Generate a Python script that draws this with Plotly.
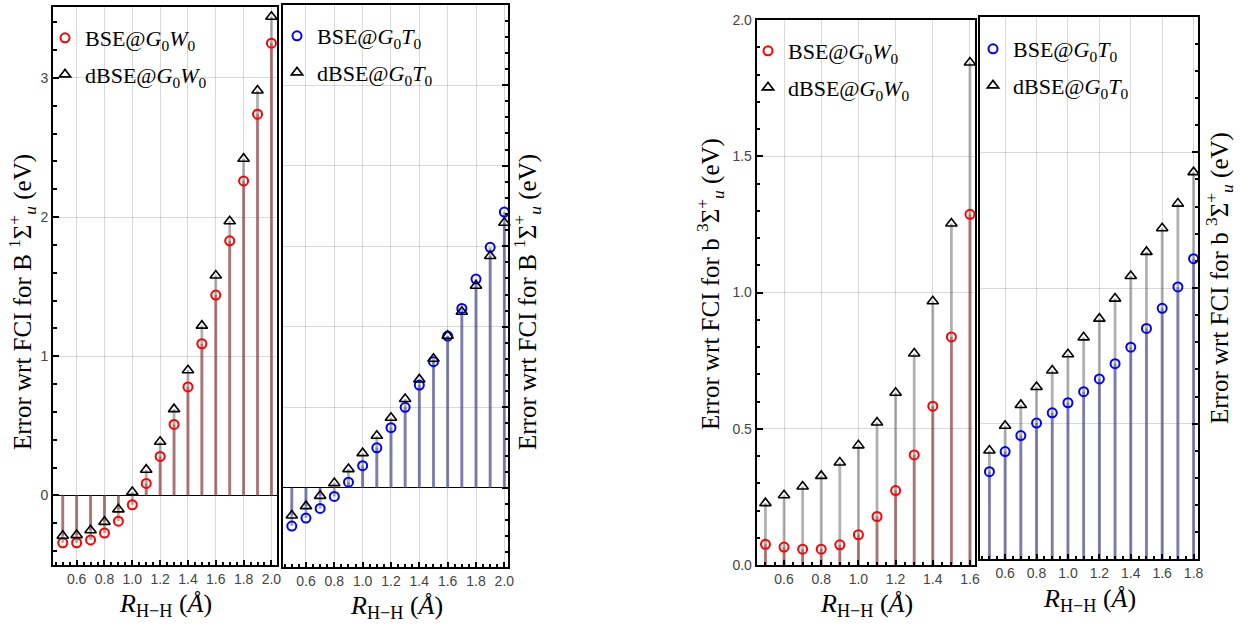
import plotly.graph_objects as go

# ---------------- data ----------------
R_B = [0.5, 0.6, 0.7, 0.8, 0.9, 1.0, 1.1, 1.2, 1.3, 1.4, 1.5, 1.6, 1.7, 1.8, 1.9, 2.0]
B1_BSE_G0W0 = [-0.34, -0.34, -0.32, -0.27, -0.185, -0.067, 0.086, 0.28, 0.51, 0.78, 1.09, 1.44, 1.83, 2.26, 2.74, 3.25]
B1_dBSE_G0W0 = [-0.29, -0.285, -0.25, -0.19, -0.10, 0.024, 0.185, 0.386, 0.62, 0.90, 1.22, 1.58, 1.97, 2.42, 2.91, 3.44]
B1_BSE_G0T0 = [-0.238, -0.188, -0.128, -0.054, 0.035, 0.137, 0.248, 0.373, 0.50, 0.638, 0.783, 0.942, 1.114, 1.296, 1.493, 1.712]
B1_dBSE_G0T0 = [-0.172, -0.114, -0.05, 0.029, 0.116, 0.215, 0.323, 0.435, 0.551, 0.673, 0.801, 0.944, 1.093, 1.255, 1.439, 1.646]

R_b_W = [0.5, 0.6, 0.7, 0.8, 0.9, 1.0, 1.1, 1.2, 1.3, 1.4, 1.5, 1.6]
b3_BSE_G0W0 = [0.076, 0.066, 0.058, 0.058, 0.074, 0.111, 0.178, 0.273, 0.404, 0.583, 0.837, 1.287]
b3_dBSE_G0W0 = [0.227, 0.256, 0.288, 0.327, 0.376, 0.439, 0.523, 0.632, 0.776, 0.968, 1.253, 1.844]

R_b_T = [0.5, 0.6, 0.7, 0.8, 0.9, 1.0, 1.1, 1.2, 1.3, 1.4, 1.5, 1.6, 1.7, 1.8]
b3_BSE_G0T0 = [0.323, 0.397, 0.456, 0.502, 0.540, 0.577, 0.618, 0.665, 0.721, 0.782, 0.851, 0.925, 1.004, 1.108]
b3_dBSE_G0T0 = [0.401, 0.492, 0.569, 0.635, 0.696, 0.756, 0.818, 0.887, 0.961, 1.044, 1.133, 1.220, 1.311, 1.427]

X_TICKS_B = [0.6, 0.8, 1.0, 1.2, 1.4, 1.6, 1.8, 2.0]
X_TICKS_bW = [0.6, 0.8, 1.0, 1.2, 1.4, 1.6]
X_TICKS_bT = [0.6, 0.8, 1.0, 1.2, 1.4, 1.6, 1.8]

LBL_W = "BSE@<i>G</i><sub>0</sub><i>W</i><sub>0</sub>"
LBL_dW = "dBSE@<i>G</i><sub>0</sub><i>W</i><sub>0</sub>"
LBL_T = "BSE@<i>G</i><sub>0</sub><i>T</i><sub>0</sub>"
LBL_dT = "dBSE@<i>G</i><sub>0</sub><i>T</i><sub>0</sub>"
YT_B = "Error wrt FCI for B <sup>1</sup>Σ<sup>+</sup><sub><i>u</i></sub> (eV)"
YT_b = "Error wrt FCI for b <sup>3</sup>Σ<sup>+</sup><sub><i>u</i></sub> (eV)"
XT = "<i>R</i><sub>H−H</sub> (<i>Å</i>)"

SERIF = "Liberation Serif"
SANS = "Liberation Sans"

GRAY_STEM = "rgba(100,100,100,0.5)"
RED_STEM = "rgba(170,40,40,0.45)"
BLUE_STEM = "rgba(60,60,170,0.45)"

fig = go.Figure()


def stems(xs, ys):
    sx, sy = [], []
    for x, y in zip(xs, ys):
        sx += [x, x, None]
        sy += [0, y, None]
    return sx, sy


panels = [
    ("x", "y", R_B, B1_BSE_G0W0, B1_dBSE_G0W0, "red", RED_STEM, (LBL_W, LBL_dW), "legend"),
    ("x2", "y2", R_B, B1_BSE_G0T0, B1_dBSE_G0T0, "blue", BLUE_STEM, (LBL_T, LBL_dT), "legend2"),
    ("x3", "y3", R_b_W, b3_BSE_G0W0, b3_dBSE_G0W0, "red", RED_STEM, (LBL_W, LBL_dW), "legend3"),
    ("x4", "y4", R_b_T, b3_BSE_G0T0, b3_dBSE_G0T0, "blue", BLUE_STEM, (LBL_T, LBL_dT), "legend4"),
]

for i, (xa, ya, R, bse, dbse, col, scol, lbls, leg) in enumerate(panels):
    sx, sy = stems(R, dbse)
    fig.add_trace(go.Scatter(x=sx, y=sy, mode="lines", line=dict(color=GRAY_STEM, width=2.8),
                             xaxis=xa, yaxis=ya, showlegend=False, hoverinfo="skip"))
    sx, sy = stems(R, bse)
    fig.add_trace(go.Scatter(x=sx, y=sy, mode="lines", line=dict(color=scol, width=2.8),
                             xaxis=xa, yaxis=ya, showlegend=False, hoverinfo="skip"))
    fig.add_trace(go.Scatter(x=R, y=bse, mode="markers", name=lbls[0],
                             marker=dict(symbol="circle-open", color=col, size=9, line=dict(width=2, color=col)),
                             xaxis=xa, yaxis=ya, legend=leg, legendgroup=f"a{i}", cliponaxis=False))
    fig.add_trace(go.Scatter(x=R, y=dbse, mode="markers", name=lbls[1],
                             marker=dict(symbol="triangle-up-open", color="black", size=10, line=dict(width=1.6, color="black")),
                             xaxis=xa, yaxis=ya, legend=leg, legendgroup=f"b{i}", cliponaxis=False))

W, H = 1240, 625


def px_x(p):
    return p / W


def px_y(p):
    return 1 - p / H


tickfont = dict(family=SANS, size=14, color="#444444")
common_x = dict(showline=True, mirror=True, linecolor="black", linewidth=2, ticks="inside",
                ticklen=5, tickwidth=1.5, tickcolor="black", showgrid=True, gridcolor="rgba(0,0,0,0.15)",
                gridwidth=1, zeroline=False, tickfont=tickfont, tickformat=".1f", automargin=False,
                minor=dict(ticks="inside", ticklen=3, tickcolor="black", dtick=0.05, tick0=0, showgrid=False))

common_y = dict(showline=True, mirror=True, linecolor="black", linewidth=2, ticks="inside",
                ticklen=6, tickwidth=1.5, tickcolor="black", showgrid=True, gridcolor="rgba(0,0,0,0.15)",
                gridwidth=1, tickfont=tickfont, automargin=False)

layout = dict(
    width=W, height=H, autosize=False, margin=dict(l=0, r=0, t=0, b=0, pad=0, autoexpand=False),
    paper_bgcolor="white", plot_bgcolor="white", showlegend=True,
    xaxis=dict(common_x, domain=[px_x(53), px_x(277)], range=[0.43, 2.04], tickvals=X_TICKS_B, anchor="y"),
    yaxis=dict(common_y, domain=[px_y(565), px_y(7)], range=[-0.5, 3.51], tickvals=[0, 1, 2, 3],
               ticktext=["0", "1", "2", "3"], zeroline=True, zerolinecolor="black", zerolinewidth=1.2,
               minor=dict(ticks="inside", ticklen=3.5, tickcolor="black", dtick=0.2, tick0=0, showgrid=False),
               anchor="x"),
    xaxis2=dict(common_x, domain=[px_x(283.3), px_x(508.3)], range=[0.44, 2.028], tickvals=X_TICKS_B, anchor="y2"),
    yaxis2=dict(common_y, domain=[px_y(566.7), px_y(5.3)], range=[-0.49, 2.996], dtick=0.5, tick0=0,
                side="right", showticklabels=False, zeroline=True, zerolinecolor="black", zerolinewidth=1.2,
                minor=dict(ticks="inside", ticklen=3.5, tickcolor="black", dtick=0.1, tick0=0, showgrid=False),
                anchor="x2"),
    xaxis3=dict(common_x, domain=[px_x(756.7), px_x(975)], range=[0.453, 1.627], tickvals=X_TICKS_bW, anchor="y3"),
    yaxis3=dict(common_y, domain=[px_y(565), px_y(20)], range=[0, 2.0], tickvals=[0, 0.5, 1.0, 1.5, 2.0],
                tickformat=".1f", zeroline=False,
                minor=dict(ticks="inside", ticklen=3.5, tickcolor="black", dtick=0.1, tick0=0, showgrid=False),
                anchor="x3"),
    xaxis4=dict(common_x, domain=[px_x(980), px_x(1198.3)], range=[0.44, 1.83], tickvals=X_TICKS_bT, anchor="y4"),
    yaxis4=dict(common_y, domain=[px_y(559.3), px_y(16.7)], range=[0, 2.0], dtick=0.5, tick0=0,
                side="right", showticklabels=False, zeroline=False,
                minor=dict(ticks="inside", ticklen=3.5, tickcolor="black", dtick=0.1, tick0=0, showgrid=False),
                anchor="x4"),
)

legfont = dict(family=SERIF, size=22, color="black")
leg_common = dict(font=legfont, bgcolor="rgba(0,0,0,0)", borderwidth=0, xanchor="left", yanchor="top",
                  tracegroupgap=5, itemwidth=30)
layout["legend"] = dict(leg_common, x=px_x(45), y=px_y(17))
layout["legend2"] = dict(leg_common, x=px_x(277), y=px_y(15))
layout["legend3"] = dict(leg_common, x=px_x(748), y=px_y(30))
layout["legend4"] = dict(leg_common, x=px_x(973), y=px_y(28))

fig.update_layout(**layout)

ytitlefont = dict(family=SERIF, size=25, color="black")
xtitlefont = dict(family=SERIF, size=26, color="black")
annots = [
    dict(text=YT_B, x=px_x(22), y=px_y(302), textangle=-90, font=ytitlefont),
    dict(text=YT_B, x=px_x(527), y=px_y(302), textangle=-90, font=ytitlefont),
    dict(text=YT_b, x=px_x(710), y=px_y(284), textangle=-90, font=ytitlefont),
    dict(text=YT_b, x=px_x(1219), y=px_y(278), textangle=-90, font=ytitlefont),
    dict(text=XT, x=px_x(165), y=px_y(605), textangle=0, font=xtitlefont),
    dict(text=XT, x=px_x(396), y=px_y(607), textangle=0, font=xtitlefont),
    dict(text=XT, x=px_x(866), y=px_y(605), textangle=0, font=xtitlefont),
    dict(text=XT, x=px_x(1089), y=px_y(600), textangle=0, font=xtitlefont),
]
for a in annots:
    fig.add_annotation(xref="paper", yref="paper", showarrow=False,
                       xanchor="center", yanchor="middle", **a)

fig.write_html("out.html", config={"displayModeBar": False},
               post_script="document.body.style.margin='0';document.body.style.overflow='hidden';")
